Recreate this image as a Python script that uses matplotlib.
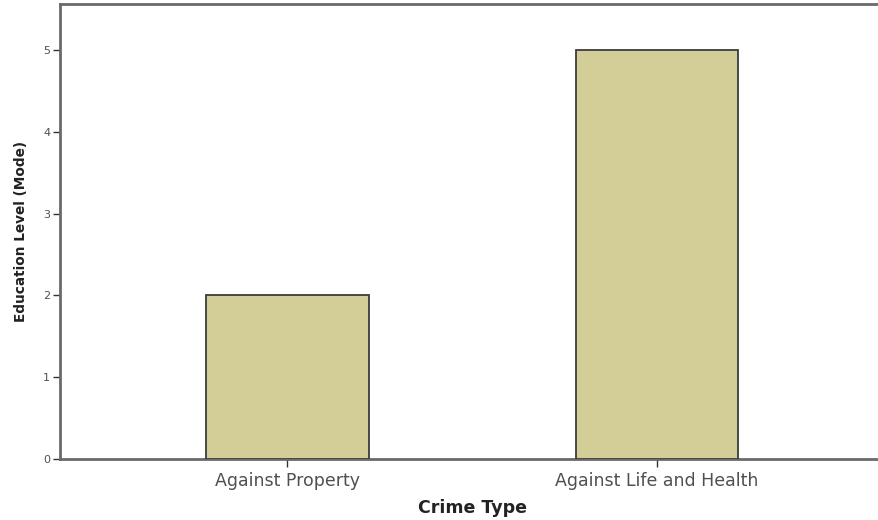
import matplotlib
matplotlib.use("Agg")
import matplotlib.pyplot as plt

categories = ["Against Property", "Against Life and Health"]
mode_values = [2, 5]
y_ticks = [0, 1, 2, 3, 4, 5]

plt.rcParams["font.family"] = ["DejaVu Sans"]

fig = plt.figure(figsize=(8.79, 5.2), dpi=100)
ax = fig.add_axes([0.0683, 0.1173, 0.9375, 0.875])

x = list(range(len(categories)))
ax.bar(x, mode_values, width=0.44, color="#d3ce97", edgecolor="#3c3c3c",
       linewidth=1.3, zorder=3)

ax.set_xlim(-0.614, 1.614)
ax.set_ylim(0, 5.56)
ax.set_xticks(x)
ax.set_xticklabels(categories, fontsize=12.5, color="#505050")
ax.set_yticks(y_ticks)
ax.set_yticklabels([str(t) for t in y_ticks], fontsize=8, color="#505050")

ax.tick_params(axis="y", length=5, width=1, color="#333333", pad=2)
ax.tick_params(axis="x", length=6, width=1, color="#333333", pad=3)

for side in ["left", "top", "bottom"]:
    ax.spines[side].set_color("#6a6a6a")
    ax.spines[side].set_linewidth(2)
ax.spines["right"].set_visible(False)

ax.set_xlabel("Crime Type", fontsize=12.5, fontweight="bold", color="#222222",
              labelpad=7)
ax.set_ylabel("Education Level (Mode)", fontsize=9.8, fontweight="bold",
              color="#222222", labelpad=11)

fig.savefig("out.png", dpi=100, facecolor="white")
